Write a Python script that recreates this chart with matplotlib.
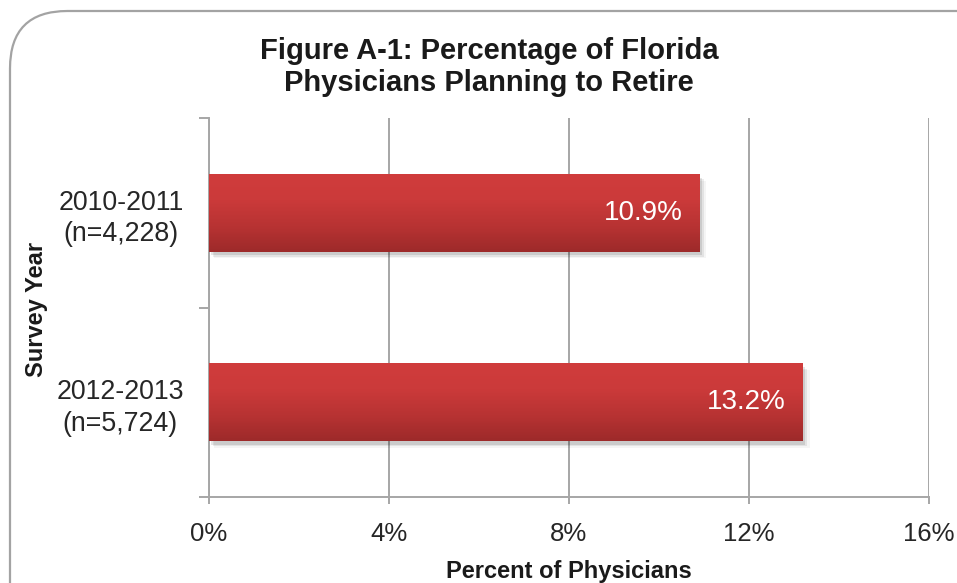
import numpy as np
import matplotlib.pyplot as plt
from matplotlib.patches import FancyBboxPatch, Rectangle
from matplotlib.colors import LinearSegmentedColormap

plt.rcParams['font.family'] = ['Liberation Sans', 'DejaVu Sans']

# data
survey_years = ['2010-2011\n(n=4,228)', '2012-2013\n(n=5,724)']
pct_retire = [10.9, 13.2]
x_ticks = [0, 4, 8, 12, 16]

fig = plt.figure(figsize=(9.57, 5.83), dpi=100)
ax = fig.add_axes([0.2184, 0.1475, 0.7523, 0.6501])

# rounded border round the whole chart
border = FancyBboxPatch((10 / 957, -0.2), 1.2, 1 - 11 / 583 + 0.2,
                        boxstyle='round,pad=0,rounding_size=0.06',
                        transform=fig.transFigure, facecolor='none',
                        edgecolor='#a3a3a3', linewidth=1.6, mutation_aspect=957 / 583)
fig.patches.append(border)

grad = LinearSegmentedColormap.from_list('barred', ['#d03c3c', '#cb3a3a', '#b83333', '#9d2a2a'])
g = np.linspace(0, 1, 100).reshape(-1, 1)
bar_h = 0.41
ypos = np.arange(len(pct_retire))

for y, v in zip(ypos, pct_retire):
    # soft shadow
    for k, a in enumerate([0.10, 0.07, 0.04]):
        ax.add_patch(Rectangle((0.05 + k * 0.03, y - bar_h / 2 + 0.02 + k * 0.008), v + k * 0.02, bar_h,
                               facecolor='black', alpha=a, edgecolor='none', zorder=2))
    ax.imshow(g, cmap=grad, aspect='auto', extent=(0, v, y + bar_h / 2, y - bar_h / 2),
              zorder=3, interpolation='bilinear')
    ax.text(v - 0.38, y, f'{v:.1f}%', color='white', fontsize=20, ha='right', va='center', zorder=4)

ax.set_xlim(0, 16)
ax.set_ylim(1.5, -0.5)
ax.set_xticks(x_ticks)
ax.set_xticklabels([f'{t}%' for t in x_ticks])
ax.set_yticks(ypos)
ax.set_yticklabels(survey_years, multialignment='center', linespacing=1.28)
ax.set_yticks([-0.5, 0.5, 1.5], minor=True)

ax.grid(axis='x', color='#a6a6a6', linewidth=1.4, zorder=1)
ax.set_axisbelow(True)
for s in ['top', 'right']:
    ax.spines[s].set_visible(False)
for s in ['left', 'bottom']:
    ax.spines[s].set_color('#a6a6a6')
    ax.spines[s].set_linewidth(1.4)

ax.tick_params(axis='x', length=5, width=1.4, color='#a6a6a6', labelsize=18.5,
               labelcolor='#262626', pad=13)
ax.tick_params(axis='y', which='major', length=0, labelsize=19.3, labelcolor='#262626', pad=18)
ax.tick_params(axis='y', which='minor', length=7, width=1.4, color='#a6a6a6')

ax.set_xlabel('Percent of Physicians', fontsize=17, fontweight='bold', color='#1a1a1a', labelpad=10)
fig.text(37 / 957, 1 - 309 / 583, 'Survey Year', rotation=90, fontsize=17, fontweight='bold',
         color='#1a1a1a', ha='center', va='center')

fig.text(489 / 957, 1 - 67 / 583, 'Figure A-1: Percentage of Florida\nPhysicians Planning to Retire',
         fontsize=21, fontweight='bold', color='#1a1a1a', ha='center', va='center', linespacing=1.22)

plt.savefig('out.png', dpi=100)
